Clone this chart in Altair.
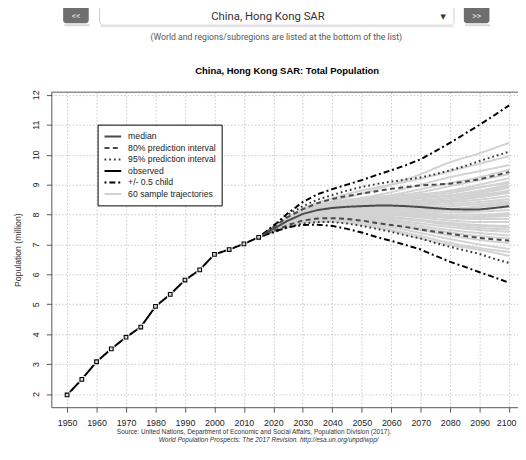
import altair as alt
import pandas as pd

# ---------------- data ----------------
obs_years = [1950, 1955, 1960, 1965, 1970, 1975, 1980, 1985, 1990, 1995, 2000, 2005, 2010, 2015]
obs_pop = [1.97, 2.49, 3.08, 3.51, 3.90, 4.24, 4.93, 5.33, 5.81, 6.15, 6.67, 6.83, 7.02, 7.24]

proj_years = [2015, 2020, 2025, 2030, 2035, 2040, 2045, 2050, 2055, 2060,
              2065, 2070, 2075, 2080, 2085, 2090, 2095, 2100]
median = [7.24, 7.52, 7.80, 8.02, 8.15, 8.22, 8.26, 8.28, 8.30, 8.30, 8.28, 8.25, 8.21, 8.18, 8.17, 8.17, 8.22, 8.28]
lo80 = [7.24, 7.45, 7.65, 7.80, 7.87, 7.88, 7.85, 7.80, 7.72, 7.65, 7.58, 7.50, 7.42, 7.36, 7.28, 7.22, 7.17, 7.13]
hi80 = [7.24, 7.58, 7.92, 8.18, 8.38, 8.52, 8.62, 8.70, 8.78, 8.86, 8.92, 8.97, 9.00, 9.03, 9.10, 9.18, 9.30, 9.42]
lo95 = [7.24, 7.40, 7.58, 7.70, 7.75, 7.75, 7.70, 7.62, 7.52, 7.42, 7.30, 7.20, 7.05, 6.92, 6.80, 6.68, 6.52, 6.38]
hi95 = [7.24, 7.62, 8.00, 8.28, 8.50, 8.65, 8.80, 8.92, 9.02, 9.10, 9.17, 9.24, 9.35, 9.48, 9.62, 9.79, 9.95, 10.10]
lo_child = [7.24, 7.42, 7.58, 7.65, 7.66, 7.62, 7.52, 7.40, 7.25, 7.12, 6.98, 6.83, 6.62, 6.42, 6.25, 6.07, 5.90, 5.72]
hi_child = [7.24, 7.62, 8.05, 8.42, 8.68, 8.85, 9.00, 9.15, 9.32, 9.48, 9.65, 9.85, 10.12, 10.40, 10.70, 11.00, 11.32, 11.65]

traj_years = [2015, 2020, 2030, 2040, 2050, 2060, 2070, 2080, 2090, 2100]
trajectories = [
    [7.24, 7.55, 8.15, 8.45, 8.70, 9.00, 9.35, 9.75, 10.05, 10.40],
    [7.24, 7.58, 8.20, 8.55, 8.80, 9.00, 9.20, 9.45, 9.70, 9.95],
    [7.24, 7.52, 8.10, 8.40, 8.55, 8.75, 9.00, 9.25, 9.45, 9.65],
    [7.24, 7.55, 8.12, 8.35, 8.50, 8.65, 8.85, 9.05, 9.25, 9.50],
    [7.24, 7.50, 8.05, 8.30, 8.45, 8.60, 8.75, 8.95, 9.15, 9.35],
    [7.24, 7.53, 8.08, 8.35, 8.48, 8.55, 8.65, 8.80, 9.00, 9.22],
    [7.24, 7.52, 8.02, 8.25, 8.40, 8.50, 8.60, 8.72, 8.90, 9.10],
    [7.24, 7.50, 8.00, 8.22, 8.35, 8.45, 8.55, 8.65, 8.80, 9.00],
    [7.24, 7.55, 8.05, 8.28, 8.38, 8.42, 8.45, 8.55, 8.70, 8.90],
    [7.24, 7.48, 7.98, 8.20, 8.30, 8.40, 8.48, 8.55, 8.65, 8.80],
    [7.24, 7.52, 8.03, 8.25, 8.32, 8.35, 8.40, 8.48, 8.58, 8.72],
    [7.24, 7.50, 7.98, 8.18, 8.28, 8.35, 8.38, 8.42, 8.50, 8.62],
    [7.24, 7.47, 7.95, 8.15, 8.25, 8.30, 8.32, 8.35, 8.42, 8.52],
    [7.24, 7.53, 8.02, 8.22, 8.28, 8.28, 8.25, 8.28, 8.35, 8.45],
    [7.24, 7.50, 7.97, 8.15, 8.22, 8.25, 8.22, 8.20, 8.25, 8.35],
    [7.24, 7.48, 7.93, 8.10, 8.18, 8.20, 8.18, 8.15, 8.18, 8.25],
    [7.24, 7.51, 7.96, 8.12, 8.15, 8.12, 8.10, 8.08, 8.10, 8.15],
    [7.24, 7.49, 7.92, 8.08, 8.12, 8.10, 8.05, 8.00, 8.00, 8.05],
    [7.24, 7.46, 7.90, 8.05, 8.08, 8.05, 8.00, 7.95, 7.92, 7.95],
    [7.24, 7.50, 7.93, 8.08, 8.10, 8.02, 7.95, 7.88, 7.85, 7.85],
    [7.24, 7.48, 7.88, 8.02, 8.03, 7.98, 7.90, 7.80, 7.75, 7.75],
    [7.24, 7.47, 7.87, 8.00, 8.00, 7.92, 7.82, 7.72, 7.65, 7.62],
    [7.24, 7.45, 7.85, 7.98, 7.95, 7.88, 7.78, 7.65, 7.55, 7.50],
    [7.24, 7.46, 7.84, 7.95, 7.92, 7.82, 7.70, 7.58, 7.48, 7.42],
    [7.24, 7.44, 7.82, 7.92, 7.88, 7.78, 7.62, 7.48, 7.38, 7.30],
    [7.24, 7.45, 7.80, 7.90, 7.85, 7.72, 7.55, 7.40, 7.28, 7.20],
    [7.24, 7.43, 7.78, 7.85, 7.80, 7.65, 7.48, 7.30, 7.15, 7.05],
    [7.24, 7.42, 7.75, 7.82, 7.75, 7.58, 7.38, 7.18, 7.00, 6.85],
    [7.24, 7.44, 7.76, 7.80, 7.70, 7.50, 7.28, 7.05, 6.88, 6.75],
    [7.24, 7.41, 7.72, 7.76, 7.65, 7.45, 7.20, 6.98, 6.82, 6.62],
    [7.24, 7.54, 8.10, 8.38, 8.55, 8.62, 8.68, 8.78, 8.92, 9.05],
    [7.24, 7.49, 7.99, 8.18, 8.25, 8.30, 8.35, 8.45, 8.60, 8.75],
    [7.24, 7.51, 8.00, 8.16, 8.20, 8.18, 8.15, 8.18, 8.28, 8.40],
    [7.24, 7.47, 7.91, 8.05, 8.05, 8.00, 7.95, 7.92, 7.95, 8.00],
    [7.24, 7.46, 7.86, 7.98, 7.98, 7.90, 7.80, 7.70, 7.62, 7.58],
    [7.24, 7.53, 8.06, 8.30, 8.42, 8.50, 8.55, 8.62, 8.75, 8.95],
]

series_order = ["median", "80% prediction interval", "95% prediction interval",
                "observed", "+/- 0.5 child", "60 sample trajectories"]
series_colors = ["#4a4a4a", "#4a4a4a", "#3a3a3a", "#000000", "#000000", "#d2d2d2"]
series_dashes = [[1, 0], [5, 3.5], [1.8, 3], [1, 0], [2, 3, 6, 3], [1, 0]]
series_widths = [2, 2, 2, 2.2, 2, 0.9]

x_ticks = [1950, 1960, 1970, 1980, 1990, 2000, 2010, 2020, 2030, 2040, 2050, 2060, 2070, 2080, 2090, 2100]
y_ticks = [2, 3, 4, 5, 6, 7, 8, 9, 10, 11, 12]

# ---------------- tables ----------------
rows = []
for k, traj in enumerate(trajectories):
    for yr, v in zip(traj_years, traj):
        rows.append({"year": yr, "value": v, "series": "60 sample trajectories", "line": f"t{k}"})
traj_df = pd.DataFrame(rows)

rows = []
for name, key, vals in [
    ("80% prediction interval", "lo80", lo80), ("80% prediction interval", "hi80", hi80),
    ("95% prediction interval", "lo95", lo95), ("95% prediction interval", "hi95", hi95),
    ("+/- 0.5 child", "loc", lo_child), ("+/- 0.5 child", "hic", hi_child),
    ("median", "med", median),
]:
    for yr, v in zip(proj_years, vals):
        rows.append({"year": yr, "value": v, "series": name, "line": key})
for yr, v in zip(obs_years, obs_pop):
    rows.append({"year": yr, "value": v, "series": "observed", "line": "obs"})
main_df = pd.DataFrame(rows)
obs_df = pd.DataFrame({"year": obs_years, "value": obs_pop})

W, H = 474, 320
xs = alt.Scale(domain=[1944.65, 2103], nice=False, zero=False)
ys = alt.Scale(domain=[1.56, 12.09], nice=False, zero=False)

FONT = "Liberation Sans"
legend = alt.Legend(
    orient="none", legendX=47, legendY=33, title=None, padding=6,
    strokeColor="#000000", fillColor="#ffffff", cornerRadius=0,
    symbolType="M-1,0H2.4", symbolSize=100, labelFont=FONT, labelFontSize=8.8,
    labelColor="#222222", labelOffset=13, rowPadding=0.7, labelLimit=300,
)

x_axis = alt.Axis(values=x_ticks, format="d", title=None, grid=True, gridDash=[1.5, 2],
                  gridColor="#c8c8c8", tickSize=5, labelPadding=7, labelFont=FONT,
                  labelFontSize=9, labelColor="#222222", domainColor="#555555",
                  tickColor="#555555", labelFlush=False,
                  labelOffset={"condition": {"test": "datum.value >= 2100", "value": -3}, "value": 0})
y_axis = alt.Axis(values=y_ticks, format="d", title="Population (million)", grid=True,
                  gridDash=[1.5, 2], gridColor="#c8c8c8", tickSize=5, labelPadding=6,
                  labelAngle=270, labelAlign="center", labelBaseline="bottom",
                  labelFont=FONT, labelFontSize=9, labelColor="#222222",
                  domainColor="#555555", tickColor="#555555", titleFont=FONT,
                  titleFontSize=8.8, titleFontWeight="normal", titleColor="#333333",
                  titlePadding=9)

X = alt.X("year:Q", scale=xs, axis=x_axis)
Y = alt.Y("value:Q", scale=ys, axis=y_axis)

def line_enc(chart):
    return chart.encode(
        x=X, y=Y,
        color=alt.Color("series:N", scale=alt.Scale(domain=series_order, range=series_colors), legend=legend),
        strokeDash=alt.StrokeDash("series:N", scale=alt.Scale(domain=series_order, range=series_dashes), legend=legend),
        strokeWidth=alt.StrokeWidth("series:N", scale=alt.Scale(domain=series_order, range=series_widths), legend=legend),
        detail="line:N",
    )

traj_layer = line_enc(alt.Chart(traj_df).mark_line(interpolate="monotone"))
main_layer = line_enc(alt.Chart(main_df).mark_line())

gap_layer = alt.Chart(obs_df).mark_point(shape="square", filled=True, color="#ffffff", size=45, opacity=1).encode(
    x=X, y=Y)
pt_layer = alt.Chart(obs_df).mark_point(shape="square", filled=False, color="#000000", fill="#d8d8d8",
                                         fillOpacity=1, strokeWidth=1.1, size=14, opacity=1).encode(
    x=X, y=Y)

one = pd.DataFrame({"k": [0]})

def box(x, x2, y, y2, fill, stroke=None, radius=0, opacity=1.0):
    kw = dict(fill=fill, cornerRadius=radius, opacity=opacity)
    if stroke is not None:
        kw.update(stroke=stroke, strokeWidth=1)
    return alt.Chart(one).mark_rect(**kw).encode(
        x=alt.value(x), x2=alt.value(x2), y=alt.value(y), y2=alt.value(y2))

def label(t, x, y, size, font, color, weight="normal", style="normal"):
    return alt.Chart(one).mark_text(text=t, font=font, fontSize=size, color=color,
                                    fontWeight=weight, fontStyle=style,
                                    align="center", baseline="middle").encode(
        x=alt.value(x), y=alt.value(y))

# page coords -> plot coords: subtract (52, 90)
header = [
    box(13, 39, -69, -67, "#cfcfcf", radius=2, opacity=0.8),
    box(12, 38, -96, -70, "#6e6e6e", radius=3),
    label("<<", 25, -77, 8.5, "Roboto", "#e8e8e8"),
    box(420, 446, -69, -67, "#cfcfcf", radius=2, opacity=0.8),
    box(419, 445, -96, -70, "#6e6e6e", radius=3),
    label(">>", 432, -77, 8.5, "Roboto", "#e8e8e8"),
    box(49, 409, -66, -67.5, "#e6e6e6", radius=3),
    box(49, 409, -98, -68, "#ffffff", stroke="#cfcfcf", radius=4),
    label("China, Hong Kong SAR", 220, -76, 11.5, "Roboto", "#333333"),
    label("▼", 398, -76, 7, "DejaVu Sans", "#333333"),
    label("(World and regions/subregions are listed at the bottom of the list)", 228.5, -55.7,
          8.8, "Roboto", "#555555"),
    label("China, Hong Kong SAR: Total Population", 239.5, -21, 9.6, FONT, "#000000", weight="bold"),
]
footer = [
    label("Source: United Nations, Department of Economic and Social Affairs, Population Division (2017).",
          206, 344.8, 6.6, FONT, "#333333"),
    label("World Population Prospects: The 2017 Revision. http://esa.un.org/unpd/wpp/",
          220.7, 353.2, 6.6, FONT, "#333333", style="italic"),
]
top_rule = alt.Chart(one).mark_rule(color="#555555", strokeWidth=1).encode(
    x=alt.value(0), x2=alt.value(W), y=alt.value(0))

chart = alt.layer(
    traj_layer, main_layer, gap_layer, pt_layer, top_rule, *header, *footer
).properties(
    width=W, height=H,
    autosize=alt.AutoSizeParams(type="none"),
    padding={"left": 44, "top": 82, "right": 0, "bottom": 42},
    background="#ffffff",
).configure_view(stroke=None)

chart.save("out.html", embed_options={"renderer": "svg", "actions": False})
